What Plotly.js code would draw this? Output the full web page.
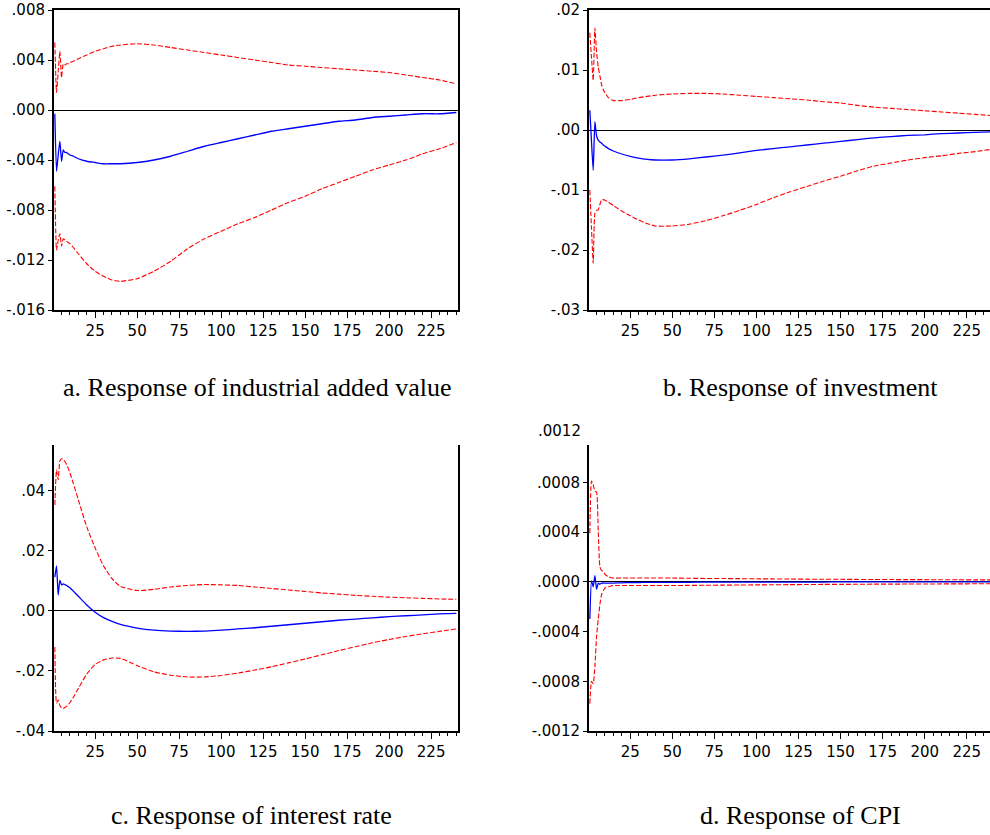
<!DOCTYPE html>
<html>
<head>
<meta charset="utf-8">
<script src="https://cdn.plot.ly/plotly-3.0.1.min.js"></script>
<style>html,body{margin:0;padding:0;background:#fff;}#chart{width:990px;height:835px;}</style>
</head>
<body>
<div id="chart"></div>
<script>
// Periods (horizon) at which values were read
var periods = [1,2,3,4,5,6,7,8,9,10,12,15,20,25,30,35,40,50,60,70,80,90,100,110,120,130,140,150,160,170,180,190,200,210,220,230,240];

// a. Response of industrial added value
var irfA   = [-0.0003,-0.0049,-0.0036,-0.0025,-0.0041,-0.0032,-0.0034,-0.0034,-0.0035,-0.0036,
              -0.0037,-0.0039,-0.0041,-0.0042,-0.0043,-0.0043,-0.0043,
              -0.0042,-0.0040,-0.0037,-0.0033,-0.0029,-0.0026,-0.0023,-0.0020,-0.0017,-0.0015,-0.0013,-0.0011,-0.0009,-0.0008,-0.0006,-0.0005,-0.0004,-0.0003,-0.0003,-0.0002];
var upperA = [0.0054,0.0014,0.0031,0.0047,0.0026,0.0037,0.0036,0.0037,0.0037,0.0038,
              0.0039,0.0041,0.0044,0.0047,0.0049,0.0051,0.0052,
              0.0053,0.0052,0.0050,0.0048,0.0046,0.0044,0.0042,0.0040,0.0038,0.0036,0.0035,0.0034,0.0033,0.0032,0.0031,0.0030,0.0028,0.0026,0.0024,0.0021];
var lowerA = [-0.0061,-0.0112,-0.0104,-0.0099,-0.0109,-0.0103,-0.0104,-0.0105,-0.0106,-0.0107,
              -0.0110,-0.0115,-0.0123,-0.0129,-0.0133,-0.0136,-0.0137,
              -0.0135,-0.0129,-0.0121,-0.0111,-0.0103,-0.0097,-0.0091,-0.0086,-0.0080,-0.0074,-0.0069,-0.0063,-0.0058,-0.0053,-0.0048,-0.0044,-0.0040,-0.0035,-0.0031,-0.0026];

// b. Response of investment
var irfB   = [0.0033,-0.0020,-0.0067,0.0014,-0.0010,-0.0017,-0.0020,-0.0022,-0.0025,-0.0027,
              -0.0031,-0.0035,-0.0040,-0.0044,-0.0047,-0.0049,-0.0050,
              -0.0050,-0.0048,-0.0045,-0.0042,-0.0038,-0.0034,-0.0031,-0.0028,-0.0025,-0.0022,-0.0019,-0.0016,-0.0013,-0.0011,-0.0009,-0.0008,-0.0006,-0.0005,-0.0004,-0.0003];
var upperB = [0.0162,0.0120,0.0083,0.0170,0.0130,0.0105,0.0090,0.0075,0.0067,0.0062,
              0.0054,0.0049,0.0049,0.0051,0.0054,0.0056,0.0058,
              0.0060,0.0061,0.0061,0.0060,0.0058,0.0056,0.0054,0.0052,0.0050,0.0047,0.0045,0.0041,0.0038,0.0036,0.0034,0.0032,0.0030,0.0028,0.0026,0.0024];
var lowerB = [-0.0100,-0.0165,-0.0222,-0.0139,-0.0134,-0.0133,-0.0124,-0.0116,-0.0116,-0.0117,
              -0.0120,-0.0126,-0.0135,-0.0143,-0.0150,-0.0156,-0.0160,
              -0.0160,-0.0157,-0.0151,-0.0143,-0.0134,-0.0124,-0.0113,-0.0103,-0.0094,-0.0085,-0.0077,-0.0068,-0.0060,-0.0055,-0.0050,-0.0046,-0.0043,-0.0039,-0.0036,-0.0032];

// c. Response of interest rate
var irfC   = [0.0113,0.0150,0.0053,0.0103,0.0087,0.0090,0.0088,0.0085,0.0081,0.0077,
              0.0066,0.0049,0.0020,-0.0004,-0.0022,-0.0035,-0.0045,
              -0.0057,-0.0064,-0.0067,-0.0068,-0.0067,-0.0064,-0.0060,-0.0056,-0.0051,-0.0046,-0.0041,-0.0036,-0.0031,-0.0027,-0.0023,-0.0019,-0.0016,-0.0013,-0.0010,-0.0008];
var upperC = [0.0353,0.0470,0.0437,0.0500,0.0507,0.0505,0.0498,0.0488,0.0475,0.0460,
              0.0425,0.0370,0.0280,0.0210,0.0150,0.0108,0.0082,
              0.0068,0.0072,0.0080,0.0085,0.0088,0.0087,0.0085,0.0080,0.0075,0.0070,0.0065,0.0060,0.0056,0.0052,0.0049,0.0046,0.0044,0.0042,0.0040,0.0039];
var lowerC = [-0.0120,-0.0307,-0.0297,-0.0315,-0.0323,-0.0325,-0.0322,-0.0318,-0.0312,-0.0305,
              -0.0288,-0.0258,-0.0210,-0.0178,-0.0163,-0.0157,-0.0158,
              -0.0182,-0.0203,-0.0214,-0.0220,-0.0220,-0.0215,-0.0207,-0.0197,-0.0186,-0.0173,-0.0160,-0.0146,-0.0132,-0.0119,-0.0106,-0.0095,-0.0085,-0.0076,-0.0068,-0.0060];

// d. Response of CPI
var irfD   = [-0.00030,0.00001,-0.00004,0.00005,-0.00006,-0.00001,-0.00002,-0.00001,-0.00001,-0.00001,
              -0.00001,-0.00001,-0.000008,-0.000007,-0.000006,-0.000005,-0.000005,
              -0.000004,-0.000004,-0.000003,-0.000003,-0.000003,-0.000002,-0.000002,-0.000002,-0.000002,-0.000002,-0.000001,-0.000001,-0.000001,-0.000001,-0.000001,-0.000001,-0.000001,-0.000001,-0.000001,-0.000001];
var upperD = [0.00039,0.00081,0.00078,0.00073,0.00072,0.00040,0.00012,0.00009,0.00008,0.00006,
              0.00004,0.00003,0.00003,0.00003,0.00003,0.00003,0.00003,
              0.000030,0.000028,0.000027,0.000026,0.000025,0.000024,0.000023,0.000022,0.000021,0.000020,0.000020,0.000019,0.000018,0.000018,0.000017,0.000017,0.000016,0.000016,0.000015,0.000015];
var lowerD = [-0.00098,-0.00080,-0.00082,-0.00068,-0.00044,-0.00030,-0.00018,-0.00010,-0.00007,-0.00005,
              -0.00004,-0.00003,-0.00003,-0.00003,-0.00003,-0.00003,-0.00003,
              -0.000030,-0.000029,-0.000028,-0.000027,-0.000026,-0.000025,-0.000024,-0.000023,-0.000022,-0.000021,-0.000021,-0.000020,-0.000019,-0.000019,-0.000018,-0.000018,-0.000017,-0.000017,-0.000016,-0.000016];

// Tick labels
var xTickVals = [25,50,75,100,125,150,175,200,225];
var xTickText = ["25","50","75","100","125","150","175","200","225"];
var yValsA = [0.008,0.004,0,-0.004,-0.008,-0.012,-0.016];
var yTextA = [".008",".004",".000","-.004","-.008","-.012","-.016"];
var yValsB = [0.02,0.01,0,-0.01,-0.02,-0.03];
var yTextB = [".02",".01",".00","-.01","-.02","-.03"];
var yValsC = [0.04,0.02,0,-0.02,-0.04];
var yTextC = [".04",".02",".00","-.02","-.04"];
var yValsD = [0.0008,0.0004,0,-0.0004,-0.0008,-0.0012];
var yTextD = [".0008",".0004",".0000","-.0004","-.0008","-.0012"];

var titles = ["a. Response of industrial added value","b. Response of investment","c. Response of interest rate","d. Response of CPI"];

var W = 990, H = 835;
function fx(p){ return p / W; }
function fy(p){ return 1 - p / H; }

var panels = [
  {irf: irfA, up: upperA, lo: lowerA, xd:[fx(54), fx(458)], yd:[fy(310), fy(10)], xr:[0.5,241], yr:[-0.016,0.008], yv:yValsA, yt:yTextA, mx:true,  my:true},
  {irf: irfB, up: upperB, lo: lowerB, xd:[fx(589), 1],      yd:[fy(310), fy(10)], xr:[0.5,238.8], yr:[-0.03,0.02], yv:yValsB, yt:yTextB, mx:true,  my:false},
  {irf: irfC, up: upperC, lo: lowerC, xd:[fx(54), fx(458)], yd:[fy(731), fy(445)], xr:[0.5,241], yr:[-0.04,0.0553], yv:yValsC, yt:yTextC, mx:false, my:true},
  {irf: irfD, up: upperD, lo: lowerD, xd:[fx(589), 1],      yd:[fy(731), fy(445)], xr:[0.5,238.8], yr:[-0.0012,0.0011], yv:yValsD, yt:yTextD, mx:false, my:false}
];

var tickFont = {family: "DejaVu Sans, Arial, sans-serif", size: 15, color: "#000"};
var data = [];
var layout = {
  width: W, height: H,
  margin: {l:0, r:0, t:0, b:0},
  paper_bgcolor: "#fff", plot_bgcolor: "#fff",
  showlegend: false,
  annotations: [],
  font: tickFont
};

panels.forEach(function(p, i){
  var n = i + 1;
  var xa = n === 1 ? "x" : "x" + n;
  var ya = n === 1 ? "y" : "y" + n;
  var red = {color: "#ff0000", width: 1.1, dash: "5px,2px", shape: "spline", smoothing: 0.5};
  data.push({x: periods, y: p.up, xaxis: xa, yaxis: ya, type: "scatter", mode: "lines", line: red, hoverinfo: "skip"});
  data.push({x: periods, y: p.lo, xaxis: xa, yaxis: ya, type: "scatter", mode: "lines", line: red, hoverinfo: "skip"});
  data.push({x: periods, y: p.irf, xaxis: xa, yaxis: ya, type: "scatter", mode: "lines", line: {color: "#0000ff", width: 1.3, shape: "spline", smoothing: 0.5}, hoverinfo: "skip"});
  layout["xaxis" + (n === 1 ? "" : n)] = {
    domain: p.xd, range: p.xr, anchor: ya,
    showgrid: false, zeroline: false,
    showline: true, linecolor: "#000", linewidth: 2, mirror: p.mx,
    tickmode: "array", tickvals: xTickVals, ticktext: xTickText,
    ticks: "outside", ticklen: 6, tickwidth: 1, tickcolor: "#000",
    minor: {ticks: "outside", ticklen: 3, tickwidth: 1, tickcolor: "#000", dtick: 5, tick0: 0, showgrid: false},
    tickfont: tickFont, fixedrange: true
  };
  layout["yaxis" + (n === 1 ? "" : n)] = {
    domain: p.yd, range: p.yr, anchor: xa,
    showgrid: false,
    zeroline: true, zerolinecolor: "#000", zerolinewidth: 1,
    showline: true, linecolor: "#000", linewidth: 2, mirror: p.my,
    tickmode: "array", tickvals: p.yv, ticktext: p.yt,
    ticks: "outside", ticklen: 4, tickwidth: 1, tickcolor: "#000",
    tickfont: tickFont, fixedrange: true
  };
});

// Panel titles below each chart
var titlePos = [[257, 387], [800, 387], [252, 815], [800, 815]];
titles.forEach(function(t, i){
  layout.annotations.push({
    text: t, xref: "paper", yref: "paper", x: fx(titlePos[i][0]), y: fy(titlePos[i][1]),
    xanchor: "center", yanchor: "middle", showarrow: false,
    font: {family: "Liberation Serif, Times New Roman, serif", size: 26, color: "#000"}
  });
});
// stray top label on panel d
layout.annotations.push({
  text: ".0012", xref: "paper", yref: "paper", x: fx(583), y: fy(431),
  xanchor: "right", yanchor: "middle", showarrow: false, font: tickFont
});

Plotly.newPlot("chart", data, layout, {staticPlot: true, displayModeBar: false});
</script>
</body>
</html>
